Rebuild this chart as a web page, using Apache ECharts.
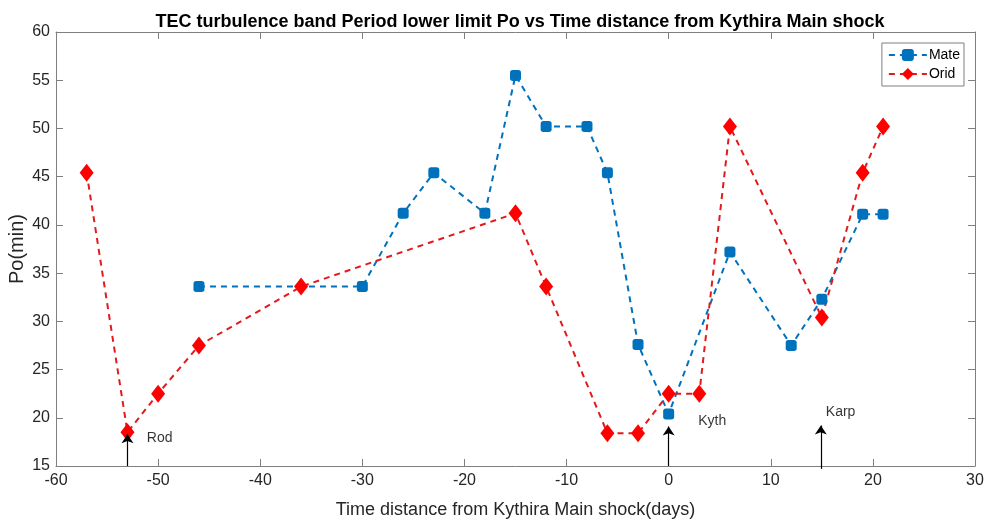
<!DOCTYPE html>
<html>
<head>
<meta charset="utf-8">
<script src="https://cdn.jsdelivr.net/npm/echarts@6/dist/echarts.min.js"></script>
<style>
  html, body { margin: 0; padding: 0; background: #fff; }
  #chart { width: 990px; height: 522px; }
</style>
</head>
<body>
<div id="chart"></div>
<script>
// days relative to the Kythira main shock, Po in minutes
const mateDays = [-46, -30, -26, -23, -18, -15, -12, -8, -6, -3, 0, 6, 12, 15, 19, 21];
const mateVals = [33.6, 33.6, 41.2, 45.4, 41.2, 55.5, 50.2, 50.2, 45.4, 27.6, 20.4, 37.2, 27.5, 32.3, 41.1, 41.1];
const oridDays = [-57, -53, -50, -46, -36, -15, -12, -6, -3, 0, 3, 6, 15, 19, 21];
const oridVals = [45.4, 18.5, 22.5, 27.5, 33.6, 41.2, 33.6, 18.4, 18.4, 22.5, 22.5, 50.2, 30.4, 45.4, 50.2];

// earthquake markers: arrow x, arrow base, arrow tip, label position
const quakeNames = ["Rod", "Kyth", "Karp"];
const quakeDays = [-53, 0, 14.9];
const arrowFrom = [15, 15, 14.7];
const arrowTo = [18.3, 19.1, 19.2];
const labelDays = [-51.6, 2.4, 14.9];
const labelVals = [17.9, 19.7, 20.6];

const chart = echarts.init(document.getElementById("chart"));

const fontFamily = "Arial, 'Liberation Sans', sans-serif";
const axisGray = "#7f7f7f";
const textGray = "#262626";

function zip(xs, ys) {
    return xs.map((x, i) => [x, ys[i]]);
}

const arrowData = quakeDays.map((d, i) => ({
    coords: [[d, arrowFrom[i]], [d, arrowTo[i]]],
}));

function frameAxis(extra) {
    return Object.assign({
        type: "value",
        axisLine: { show: true, onZero: false, lineStyle: { color: axisGray } },
        axisTick: { show: true, inside: true, length: 7, lineStyle: { color: axisGray } },
        axisLabel: { show: false },
        splitLine: { show: false },
    }, extra);
}

const option = {
    animation: false,
    title: {
        text: "TEC turbulence band Period lower limit Po vs Time distance from Kythira Main shock",
        left: 515,
        textAlign: "center",
        top: 8,
        textStyle: { fontFamily, fontSize: 18, fontWeight: "bold", color: "#000" },
    },
    legend: {
        right: 26,
        top: 43,
        orient: "vertical",
        data: ["Mate", "Orid"],
        backgroundColor: "#fff",
        borderColor: "#7f7f7f",
        borderWidth: 1,
        borderRadius: 0,
        padding: [5, 4, 5, 6],
        itemGap: 5,
        itemWidth: 38,
        itemHeight: 15,
        textStyle: { fontFamily, fontSize: 14, color: "#000", padding: [0, 0, 0, -3] },
    },
    grid: { left: 56, right: 15, top: 32, bottom: 56, outerBoundsMode: "none", containLabel: false },
    xAxis: [
        frameAxis({
            min: -60, max: 30, interval: 10,
            name: "Time distance from Kythira Main shock(days)",
            nameLocation: "middle",
            nameGap: 35,
            nameMoveOverlap: false,
            nameTextStyle: { fontFamily, fontSize: 18, color: textGray },
            axisLabel: { fontFamily, fontSize: 16, color: textGray, margin: 7 },
        }),
        frameAxis({ position: "top", min: -60, max: 30, interval: 10 }),
    ],
    yAxis: [
        frameAxis({
            min: 15, max: 60, interval: 5,
            name: "Po(min)",
            nameLocation: "middle",
            nameGap: 29,
            nameMoveOverlap: false,
            nameTextStyle: { fontFamily, fontSize: 20, color: textGray },
            axisLabel: { fontFamily, fontSize: 16, color: textGray, margin: 6 },
        }),
        frameAxis({ position: "right", min: 15, max: 60, interval: 5 }),
    ],
    series: [
        {
            name: "Mate",
            type: "line",
            data: zip(mateDays, mateVals),
            symbol: "roundRect",
            symbolSize: 11,
            showAllSymbol: true,
            color: "#0072bd",
            lineStyle: { color: "#0072bd", width: 2, type: [6, 5] },
            itemStyle: { color: "#0072bd" },
        },
        {
            name: "Orid",
            type: "line",
            data: zip(oridDays, oridVals),
            symbol: "diamond",
            symbolSize: [14, 18],
            showAllSymbol: true,
            color: "#ff0000",
            lineStyle: { color: "#e31a1c", width: 2, type: [6, 5] },
            itemStyle: { color: "#ff0000" },
        },
        {
            name: "quake arrows",
            type: "lines",
            coordinateSystem: "cartesian2d",
            silent: true,
            clip: false,
            z: 5,
            symbol: ["none", "arrow"],
            symbolSize: 9,
            lineStyle: { color: "#000", width: 1.2, opacity: 1 },
            data: arrowData,
        },
        {
            name: "quake labels",
            type: "scatter",
            data: zip(labelDays, labelVals).map((p, i) => ({ value: p, name: quakeNames[i] })),
            symbolSize: 0,
            silent: true,
            clip: false,
            label: {
                show: true,
                position: "right",
                formatter: "{b}",
                fontFamily,
                fontSize: 14,
                color: "#000",
            },
        },
    ],
};

chart.setOption(option);
</script>
</body>
</html>
